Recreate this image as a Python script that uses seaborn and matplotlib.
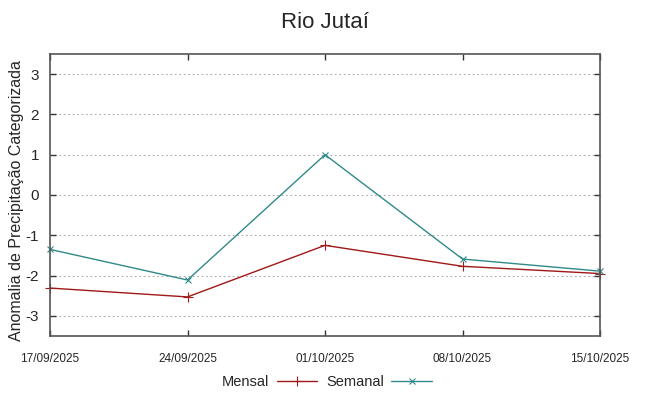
import pandas as pd
import seaborn as sns
from matplotlib import pyplot as plt

# values
datas = ["17/09/2025", "24/09/2025", "01/10/2025", "08/10/2025", "15/10/2025"]
mensal = [-2.31, -2.53, -1.25, -1.77, -1.95]
semanal = [-1.35, -2.11, 1.00, -1.59, -1.89]
yticks = [-3, -2, -1, 0, 1, 2, 3]

df = pd.DataFrame({"Data": datas, "Mensal": mensal, "Semanal": semanal})
df["pos"] = range(len(datas))

sns.set_style("white")
plt.rcParams["font.family"] = ["Liberation Sans", "DejaVu Sans"]

fig = plt.figure(figsize=(6.49, 3.96), dpi=100)
ax = fig.add_axes([50 / 649, 60 / 396, 550 / 649, 282 / 396])

cor_m = "#a01818"
cor_s = "#308a8a"
sns.lineplot(data=df, x="pos", y="Mensal", color=cor_m, marker="+",
             markersize=7, markeredgewidth=0.8, markeredgecolor=cor_m,
             linewidth=1, label="Mensal", clip_on=False, ax=ax)
sns.lineplot(data=df, x="pos", y="Semanal", color=cor_s, marker="x",
             markersize=5, markeredgewidth=0.8, markeredgecolor=cor_s,
             linewidth=1, label="Semanal", clip_on=False, ax=ax)

ax.set_xlim(0, len(datas) - 1)
ax.set_ylim(-3.5, 3.5)
ax.set_xticks(df["pos"])
ax.set_xticklabels(datas, fontsize=8.5)
ax.set_yticks(yticks)
ax.set_yticklabels([str(v) for v in yticks], fontsize=11)
ax.tick_params(direction="in", length=4, width=1, color="#333333",
               top=True, right=True, bottom=True, left=True, pad=8)
ax.tick_params(axis="x", pad=12)
ax.yaxis.grid(True, linestyle=(0, (1.5, 2.5)), color="#aaaaaa", linewidth=0.8)
for s in ax.spines.values():
    s.set_color("#555555")
    s.set_linewidth(1.2)

ax.set_xlabel("")
ax.set_ylabel("Anomalia de Precipitação Categorizada", fontsize=11.5)
ax.yaxis.set_label_coords(-0.047, 0.482)
fig.suptitle("Rio Jutaí", fontsize=16, y=0.97)

ax.get_legend().remove()
h, l = ax.get_legend_handles_labels()
fig.legend(h, l, loc="center", bbox_to_anchor=(327 / 649, 1 - 382 / 396), ncol=2,
           frameon=False, markerfirst=False, fontsize=10.5, handlelength=2.8,
           handletextpad=0.5, columnspacing=0.6)

fig.savefig("out.png", dpi=100)
